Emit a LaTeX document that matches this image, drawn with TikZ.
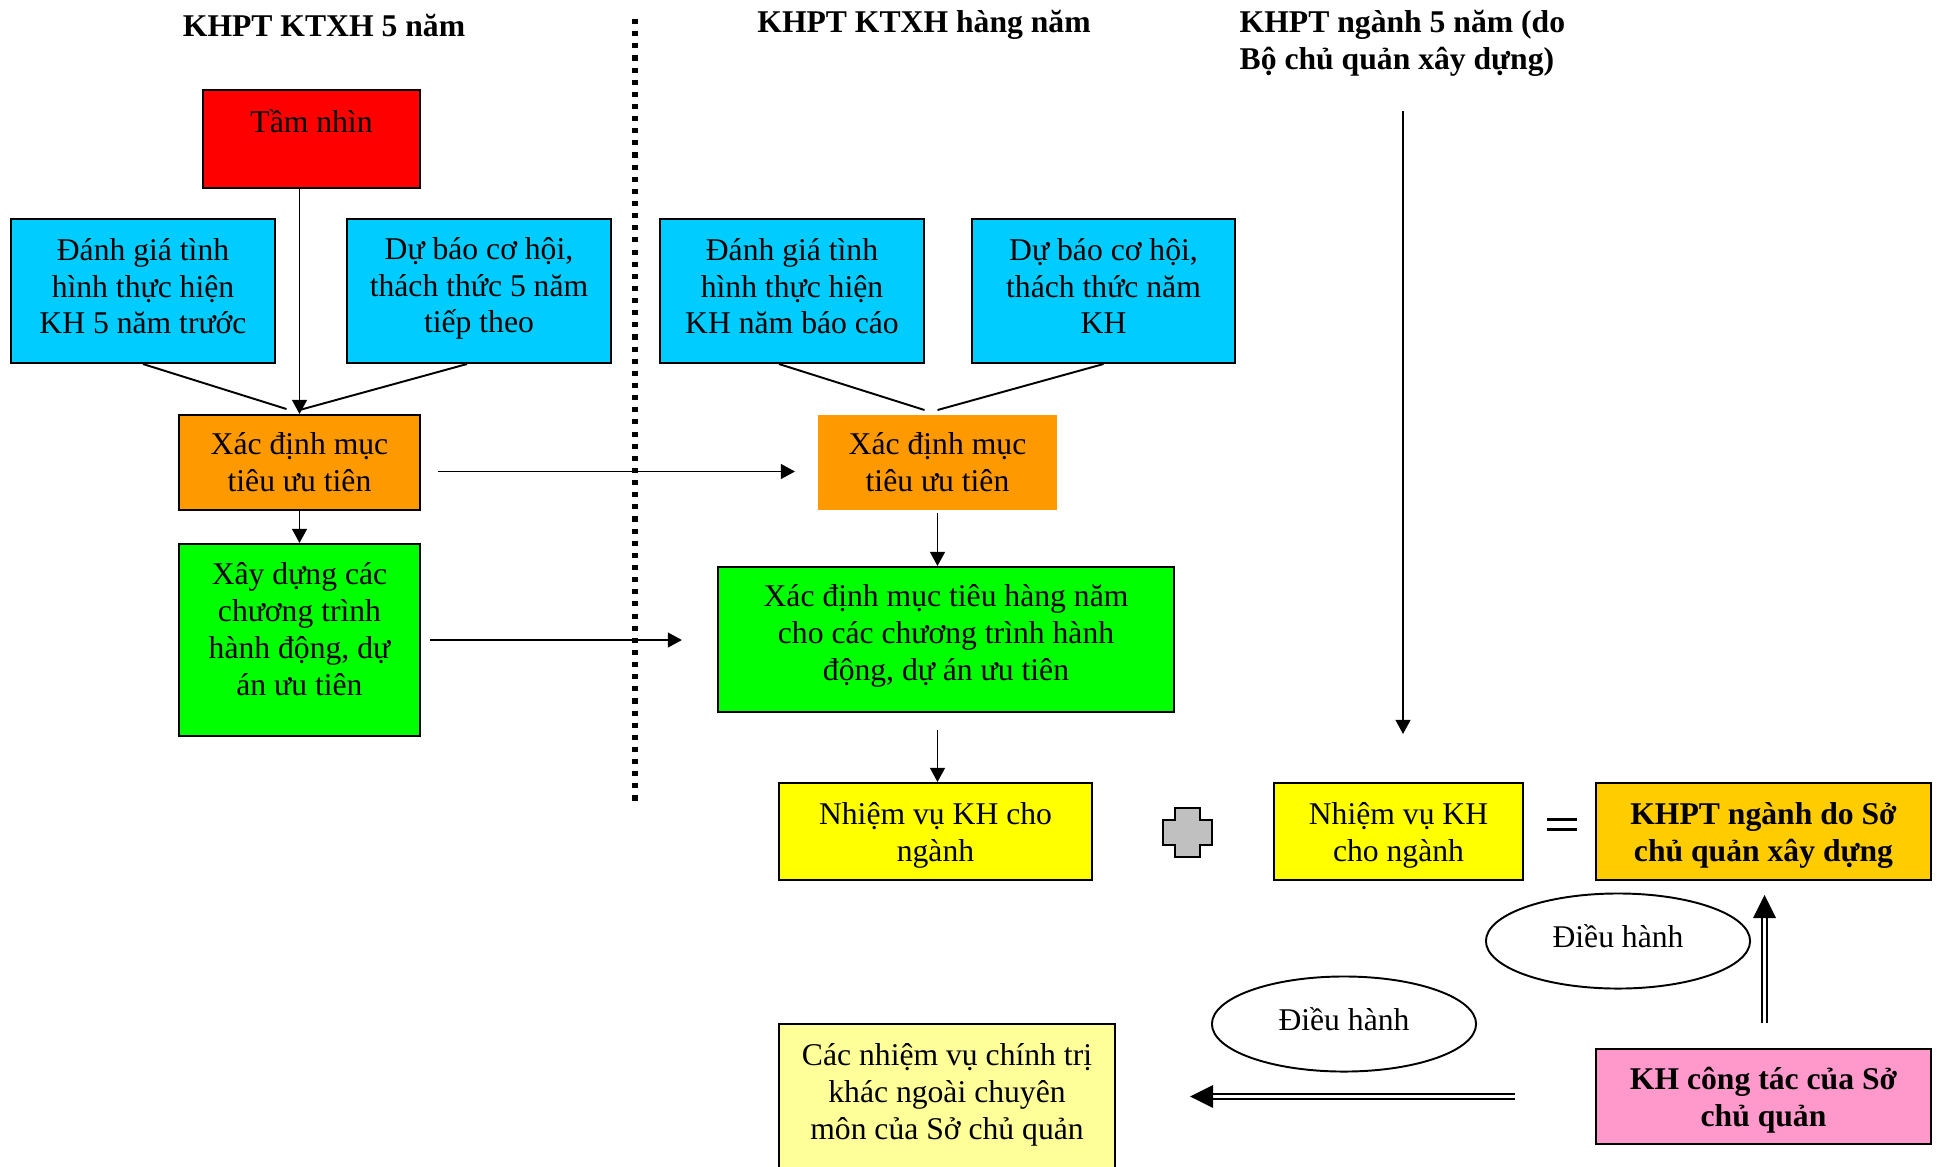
\documentclass[tikz,border=0pt]{standalone}
\usepackage{fontspec}
\setmainfont{Liberation Serif}
\usetikzlibrary{arrows.meta,calc,shapes.geometric}
\definecolor{cRed}{HTML}{FF0000}
\definecolor{cCyan}{HTML}{00CCFF}
\definecolor{cOrange}{HTML}{FF9900}
\definecolor{cGreen}{HTML}{00FF00}
\definecolor{cYellow}{HTML}{FFFF00}
\definecolor{cGold}{HTML}{FFCC00}
\definecolor{cPink}{HTML}{FF99CC}
\definecolor{cPale}{HTML}{FFFF99}
\definecolor{cGray}{HTML}{C0C0C0}
% empty lines that nudge a multi-line label up (padbot) or down (padtop)
\newcommand\padbot[1]{\\[#1]\mbox{}}
\newcommand\padtop[1]{\mbox{}\\[#1]}
\begin{document}
\begin{tikzpicture}[x=0.01cm,y=-0.01cm,
  font=\fontsize{9}{10.5}\selectfont,
  box/.style={draw=black, line width=0.55pt, align=center, inner sep=0pt},
  conn/.style={line width=0.55pt},
  arr/.style={conn,-{Triangle[length=4pt,width=4.2pt]}},
  dbl/.style={line width=0.5pt, double=white, double distance=1pt},
  tip/.style={fill=black},
  hdr/.style={font=\fontsize{9}{10.5}\selectfont\bfseries},
  oval/.style={ellipse, draw=black, line width=0.55pt, inner sep=0pt,
    minimum width=2.64cm, minimum height=0.95cm, text height=7pt, text depth=3.3pt}]
\useasboundingbox (0,0) rectangle (1937,1166);
\clip (0,0) rectangle (1937,1166);

% column headings
\node[hdr] (h1) at (324,25) {KHPT KTXH 5 năm};
\node[hdr] (h2) at (924,25) {KHPT KTXH hàng năm};
\node[hdr, anchor=west, align=left, inner sep=0pt] (h3) at (1239,43.5)
  {KHPT ngành 5 năm (do\\Bộ chủ quản xây dựng)};

% separator between the two plans
\coordinate (d1) at (635,19);
\coordinate (d2) at (635,805);
\draw[line width=1.45pt, dash pattern=on 1.45pt off 2pt] (d1) -- (d2);

% five-year plan column
\node[box, fill=cRed, minimum width=2.17cm, minimum height=0.98cm] (tam) at (311.5,139) {Tầm nhìn\\~};
\node[box, fill=cCyan, minimum width=2.64cm, minimum height=1.44cm] (dg1) at (143,291)
  {Đánh giá tình\\hình thực hiện\\KH 5 năm trước\padbot{-7.66pt}};
\node[box, fill=cCyan, minimum width=2.64cm, minimum height=1.44cm] (db1) at (479,291)
  {Dự báo cơ hội,\\thách thức 5 năm\\tiếp theo\padbot{-7.1pt}};
\node[box, fill=cOrange, minimum width=2.41cm, minimum height=0.95cm] (xd1) at (299.5,462.5)
  {Xác định mục\\tiêu ưu tiên};
\node[box, fill=cGreen, minimum width=2.41cm, minimum height=1.92cm] (xdct) at (299.5,640)
  {Xây dựng các\\chương trình\\hành động, dự\\án ưu tiên\\[-0.15cm]~};

% annual plan column
\node[box, fill=cCyan, minimum width=2.64cm, minimum height=1.44cm] (dg2) at (792,291)
  {Đánh giá tình\\hình thực hiện\\KH năm báo cáo\padbot{-7.66pt}};
\node[box, fill=cCyan, minimum width=2.63cm, minimum height=1.44cm] (db2) at (1103.5,291)
  {Dự báo cơ hội,\\thách thức năm\\KH\padbot{-7.66pt}};
\node[box, draw=none, fill=cOrange, minimum width=2.39cm, minimum height=0.95cm] (xd2) at (937.5,462.5)
  {Xác định mục\\tiêu ưu tiên};
\node[box, fill=cGreen, minimum width=4.56cm, minimum height=1.45cm] (xdhn) at (946,639.5)
  {Xác định mục tiêu hàng năm\\cho các chương trình hành\\động, dự án ưu tiên\padbot{-6.4pt}};
\node[box, fill=cYellow, minimum width=3.13cm, minimum height=0.97cm] (nv1) at (935.5,831.5)
  {\padtop{-1.8pt}Nhiệm vụ KH cho\\ngành};

% sector plan
\node[box, fill=cYellow, minimum width=2.49cm, minimum height=0.97cm] (nv2) at (1398.5,831.5)
  {\padtop{-1.8pt}Nhiệm vụ KH\\cho ngành};
\node[box, fill=cGold, minimum width=3.35cm, minimum height=0.97cm, font=\fontsize{9}{10.5}\selectfont\bfseries] (khpt) at (1763.5,831.5)
  {\padtop{-1.8pt}KHPT ngành do Sở\\chủ quản xây dựng};
\node[box, fill=cPink, minimum width=3.35cm, minimum height=0.95cm, font=\fontsize{9}{10.5}\selectfont\bfseries] (khct) at (1763.5,1096.5)
  {\padtop{-2.3pt}KH công tác của Sở\\chủ quản};
\node[box, fill=cPale, minimum width=3.36cm, minimum height=1.71cm] (cnv) at (947,1109.5)
  {Các nhiệm vụ chính trị\\khác ngoài chuyên\\môn của Sở chủ quản\\~};

\node[oval] (e1) at (1618,941) {Điều hành};
\node[oval] (e2) at (1344,1024) {Điều hành};

% plus and equals signs
\coordinate (pl) at (1187.5,832.5);
\draw[line width=0.55pt, fill=cGray]
  ($(pl)+(-12.5,-24.5)$) -- ($(pl)+(12.5,-24.5)$) -- ($(pl)+(12.5,-12.5)$) --
  ($(pl)+(24.5,-12.5)$) -- ($(pl)+(24.5,12.5)$) -- ($(pl)+(12.5,12.5)$) --
  ($(pl)+(12.5,24.5)$) -- ($(pl)+(-12.5,24.5)$) -- ($(pl)+(-12.5,12.5)$) --
  ($(pl)+(-24.5,12.5)$) -- ($(pl)+(-24.5,-12.5)$) -- ($(pl)+(-12.5,-12.5)$) -- cycle;
\coordinate (eq) at (1562,824.5);
\draw[line width=1.1pt] ($(eq)+(-15,-5)$) -- ($(eq)+(15,-5)$);
\draw[line width=1.1pt] ($(eq)+(-15,5)$) -- ($(eq)+(15,5)$);

% connectors, five-year column
\draw[arr] (tam.south -| xd1.north) -- (xd1.north);
\draw[conn] (dg1.south) -- ($(xd1.north)+(-13,-5)$);
\draw[conn] ($(db1.south)+(-12,0)$) -- ($(xd1.north)+(0,-4)$);
\draw[arr] (xd1.south) -- (xdct.north);

% connectors between the columns
\draw[arr] ($(xd1.east)+(17,9)$) -- ($(xd2.west)+(-22,9)$);
\draw[arr] ($(xdct.east)+(9,0)$) -- ($(xdct.east -| xdhn.west)+(-35,0)$);

% connectors, annual column
\draw[conn] ($(dg2.south)+(-13,0)$) -- ($(xd2.north)+(-13,-4)$);
\draw[conn] (db2.south) -- ($(xd2.north)+(0,-4)$);
\draw[arr] ($(xd2.south)+(0,2)$) -- (xd2.south |- xdhn.north);
\draw[arr] ($(xdhn.south -| xd2.south)+(0,17)$) -- (xd2.south |- nv1.north);

% sector plan connectors
\coordinate (top3) at (1403,111);
\draw[arr, shorten >=0.48cm] (top3) -- (top3 |- nv2.north);

% double arrows from the work plan
\coordinate (up0) at ($(khct.north)+(1,-25)$);
\coordinate (up1) at ($(khct.north |- khpt.south)+(1,14)$);
\draw[dbl] (up0) -- ($(up1)+(0,22)$);
\fill[tip] (up1) -- ($(up1)+(-11.5,23)$) -- ($(up1)+(11.5,23)$) -- cycle;
\coordinate (lf0) at ($(khct.west)+(-80,0)$);
\coordinate (lf1) at ($(cnv.east |- khct.west)+(74,0)$);
\draw[dbl] (lf0) -- ($(lf1)+(22,0)$);
\fill[tip] (lf1) -- ($(lf1)+(23,-11.5)$) -- ($(lf1)+(23,11.5)$) -- cycle;
\end{tikzpicture}
\end{document}
